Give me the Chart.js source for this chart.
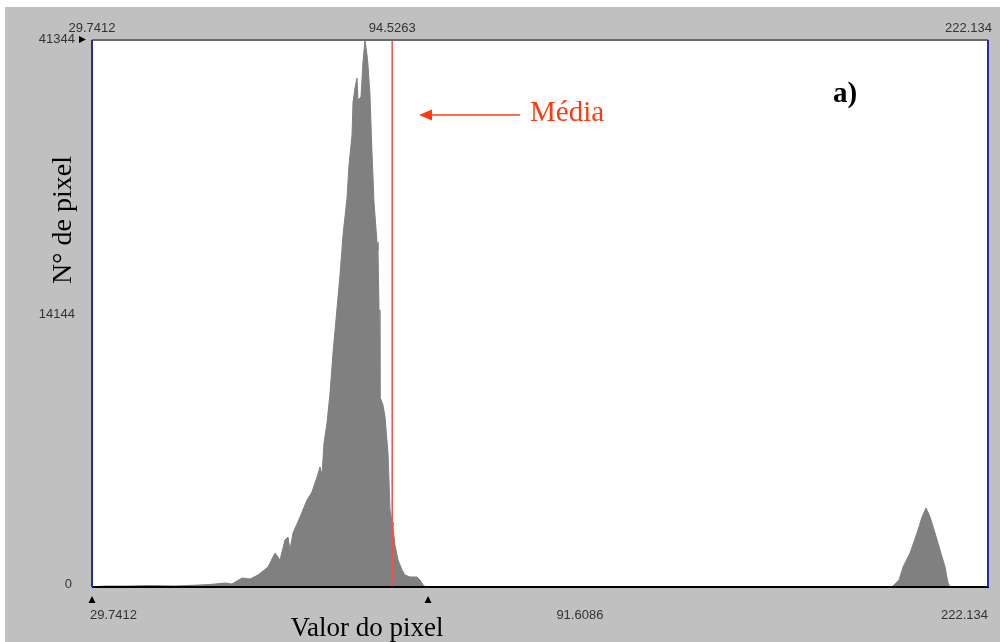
<!DOCTYPE html>
<html>
<head>
<meta charset="utf-8">
<script src="https://cdn.jsdelivr.net/npm/chart.js@4/dist/chart.umd.min.js"></script>
<style>
  html, body { margin: 0; padding: 0; background: #ffffff; }
  #c { display: block; }
</style>
</head>
<body>
<canvas id="c" width="1000" height="642"></canvas>
<script>
// ---- Data ----
const pixelValues = [29.74, 32.53, 37.90, 42.20, 47.56, 52.93, 55.08, 58.30, 59.80, 61.95,
  63.67, 65.39, 67.53, 69.04, 70.11, 71.18, 71.83, 72.26, 72.90, 74.41,
  75.91, 76.98, 78.06, 78.70, 79.13, 79.56, 80.20, 80.85, 81.49, 82.13,
  82.99, 83.64, 84.50, 84.93, 85.57, 85.79, 86.21, 86.64, 86.86, 87.50,
  87.93, 88.36, 88.79, 89.00, 89.43, 89.86, 90.29, 90.94, 91.15, 91.37,
  91.58, 92.22, 92.66, 93.30, 93.73, 94.16, 94.37, 94.80, 95.45, 96.31,
  96.95, 98.03, 99.53, 100.17, 100.82, 101.46, 201.20, 201.74, 203.03, 203.89,
  205.39, 206.89, 207.97, 208.83, 209.69, 210.76, 211.83, 212.91, 213.55, 213.98,
  222.13];
const pixelCounts = [0, 76, 76, 113, 76, 151, 189, 302, 227, 680,
  605, 907, 1512, 2570, 2041, 3552, 3779, 2797, 4081, 5291,
  6576, 7180, 8314, 9070, 8465, 10884, 12396, 14663, 17686, 20181,
  23582, 26605, 29402, 31896, 34164, 36658, 37716, 38472, 36809, 37036,
  39681, 41344, 40210, 39454, 37187, 32879, 29099, 26076, 25472, 20936,
  14361, 13756, 12849, 10128, 5820, 4913, 4535, 3174, 2041, 1285,
  907, 756, 756, 529, 151, 0, 0, 76, 529, 1512,
  2570, 4081, 5291, 5971, 5291, 4081, 2797, 1512, 302, 0,
  0];

const xMin = 29.7412, xMax = 222.134;
const yMin = 0, yMax = 41344;
const meanLinePos = 94.2;           // where the red "Média" line is drawn
const topTickLabels = ['29.7412', '94.5263', '222.134'];
const topTickValues = [29.7412, 94.2, 222.134];
const leftTickLabels = ['0', '14144', '41344'];
const leftTickFractions = [0, 0.5, 1];
const bottomMarkerValues = [29.7412, 101.9];
const bottomLabels = ['29.7412', '91.6086', '222.134'];
const bottomLabelValues = [29.7412, 134.5, 222.134];

const histData = pixelValues.map((v, i) => ({ x: v, y: pixelCounts[i] }));
const meanData = [{ x: meanLinePos, y: yMin }, { x: meanLinePos, y: yMax }];

const decor = {
  id: 'decor',
  beforeDraw(chart) {
    const ctx = chart.ctx;
    ctx.save();
    ctx.fillStyle = '#ffffff';
    ctx.fillRect(0, 0, chart.width, chart.height);
    ctx.fillStyle = '#c0c0c0';
    ctx.fillRect(5, 7, chart.width - 5, chart.height - 7);
    const a = chart.chartArea;
    ctx.fillStyle = '#ffffff';
    ctx.fillRect(a.left, a.top, a.right - a.left, a.bottom - a.top);
    ctx.restore();
  },
  afterDraw(chart) {
    const ctx = chart.ctx;
    const a = chart.chartArea;
    const xs = chart.scales.x;
    ctx.save();
    // frame
    ctx.lineWidth = 2;
    ctx.strokeStyle = '#6a6a6a';
    ctx.beginPath(); ctx.moveTo(a.left, a.top); ctx.lineTo(a.right, a.top); ctx.stroke();
    ctx.strokeStyle = '#000000';
    ctx.beginPath(); ctx.moveTo(a.left, a.bottom); ctx.lineTo(a.right + 1, a.bottom); ctx.stroke();
    ctx.strokeStyle = '#2a2aa8';
    ctx.beginPath(); ctx.moveTo(a.left, a.top); ctx.lineTo(a.left, a.bottom); ctx.stroke();
    ctx.beginPath(); ctx.moveTo(a.right, a.top); ctx.lineTo(a.right, a.bottom); ctx.stroke();

    // top labels
    ctx.fillStyle = '#333333';
    ctx.font = '13px "Liberation Sans", Arial, sans-serif';
    ctx.textBaseline = 'middle';
    topTickLabels.forEach((t, i) => {
      let px = xs.getPixelForValue(topTickValues[i]);
      if (i === topTickLabels.length - 1) { ctx.textAlign = 'right'; px += 4; }
      else ctx.textAlign = 'center';
      ctx.fillText(t, px, 28);
    });
    // left labels
    ctx.textAlign = 'right';
    leftTickLabels.forEach((t, i) => {
      const py = a.bottom - leftTickFractions[i] * (a.bottom - a.top);
      let y = py; let x = 75;
      if (i === 0) { y = py - 3; x = 72; }
      else if (i === leftTickLabels.length - 1) { y = py - 1; }
      else { y = py + 1; }
      ctx.fillText(t, x, y);
    });
    // left marker triangle
    ctx.fillStyle = '#000000';
    ctx.beginPath(); ctx.moveTo(79, 36); ctx.lineTo(86, 39.5); ctx.lineTo(79, 43); ctx.closePath(); ctx.fill();
    // bottom markers
    bottomMarkerValues.forEach(v => {
      const px = xs.getPixelForValue(v);
      ctx.beginPath(); ctx.moveTo(px - 3.5, 603); ctx.lineTo(px, 596); ctx.lineTo(px + 3.5, 603); ctx.closePath(); ctx.fill();
    });
    // bottom labels
    ctx.fillStyle = '#333333';
    bottomLabels.forEach((t, i) => {
      const px = xs.getPixelForValue(bottomLabelValues[i]);
      if (i === 0) ctx.textAlign = 'left';
      else if (i === bottomLabels.length - 1) ctx.textAlign = 'right';
      else ctx.textAlign = 'center';
      ctx.fillText(t, i === 0 ? px - 2 : px, 615);
    });

    // axis titles
    ctx.fillStyle = '#000000';
    ctx.font = '27px "Liberation Serif", "Times New Roman", serif';
    ctx.textAlign = 'center';
    ctx.textBaseline = 'alphabetic';
    ctx.fillText('Valor do pixel', 367, 636);
    ctx.save();
    ctx.translate(71, 220);
    ctx.rotate(-Math.PI / 2);
    ctx.font = '28px "Liberation Serif", "Times New Roman", serif';
    ctx.fillText('N° de pixel', 0, 0);
    ctx.restore();

    // a)
    ctx.font = 'bold 29px "Liberation Serif", "Times New Roman", serif';
    ctx.fillText('a)', 845, 102);

    // Média annotation
    ctx.fillStyle = '#ff3a10';
    ctx.strokeStyle = '#ff3a10';
    ctx.font = '29px "Liberation Serif", "Times New Roman", serif';
    ctx.textAlign = 'left';
    ctx.fillText('Média', 530, 121);
    ctx.lineWidth = 1.5;
    ctx.beginPath(); ctx.moveTo(430, 115); ctx.lineTo(520, 115); ctx.stroke();
    ctx.beginPath(); ctx.moveTo(419, 115); ctx.lineTo(432, 109.5); ctx.lineTo(432, 120.5); ctx.closePath(); ctx.fill();
    ctx.restore();
  }
};

new Chart(document.getElementById('c'), {
  type: 'line',
  data: {
    datasets: [
      {
        label: 'Histograma',
        data: histData,
        order: 2,
        fill: 'origin',
        backgroundColor: '#808080',
        borderColor: '#808080',
        borderWidth: 1,
        pointRadius: 0,
        tension: 0
      },
      {
        label: 'Média',
        data: meanData,
        order: 1,
        fill: false,
        borderColor: '#ff4a4a',
        borderWidth: 1.5,
        pointRadius: 0
      }
    ]
  },
  options: {
    responsive: false,
    animation: false,
    events: [],
    layout: { padding: { left: 92, right: 12, top: 40, bottom: 55 } },
    scales: {
      x: { type: 'linear', min: xMin, max: xMax, display: false },
      y: { type: 'linear', min: yMin, max: yMax, display: false }
    },
    plugins: { legend: { display: false }, tooltip: { enabled: false } }
  },
  plugins: [decor]
});
</script>
</body>
</html>
